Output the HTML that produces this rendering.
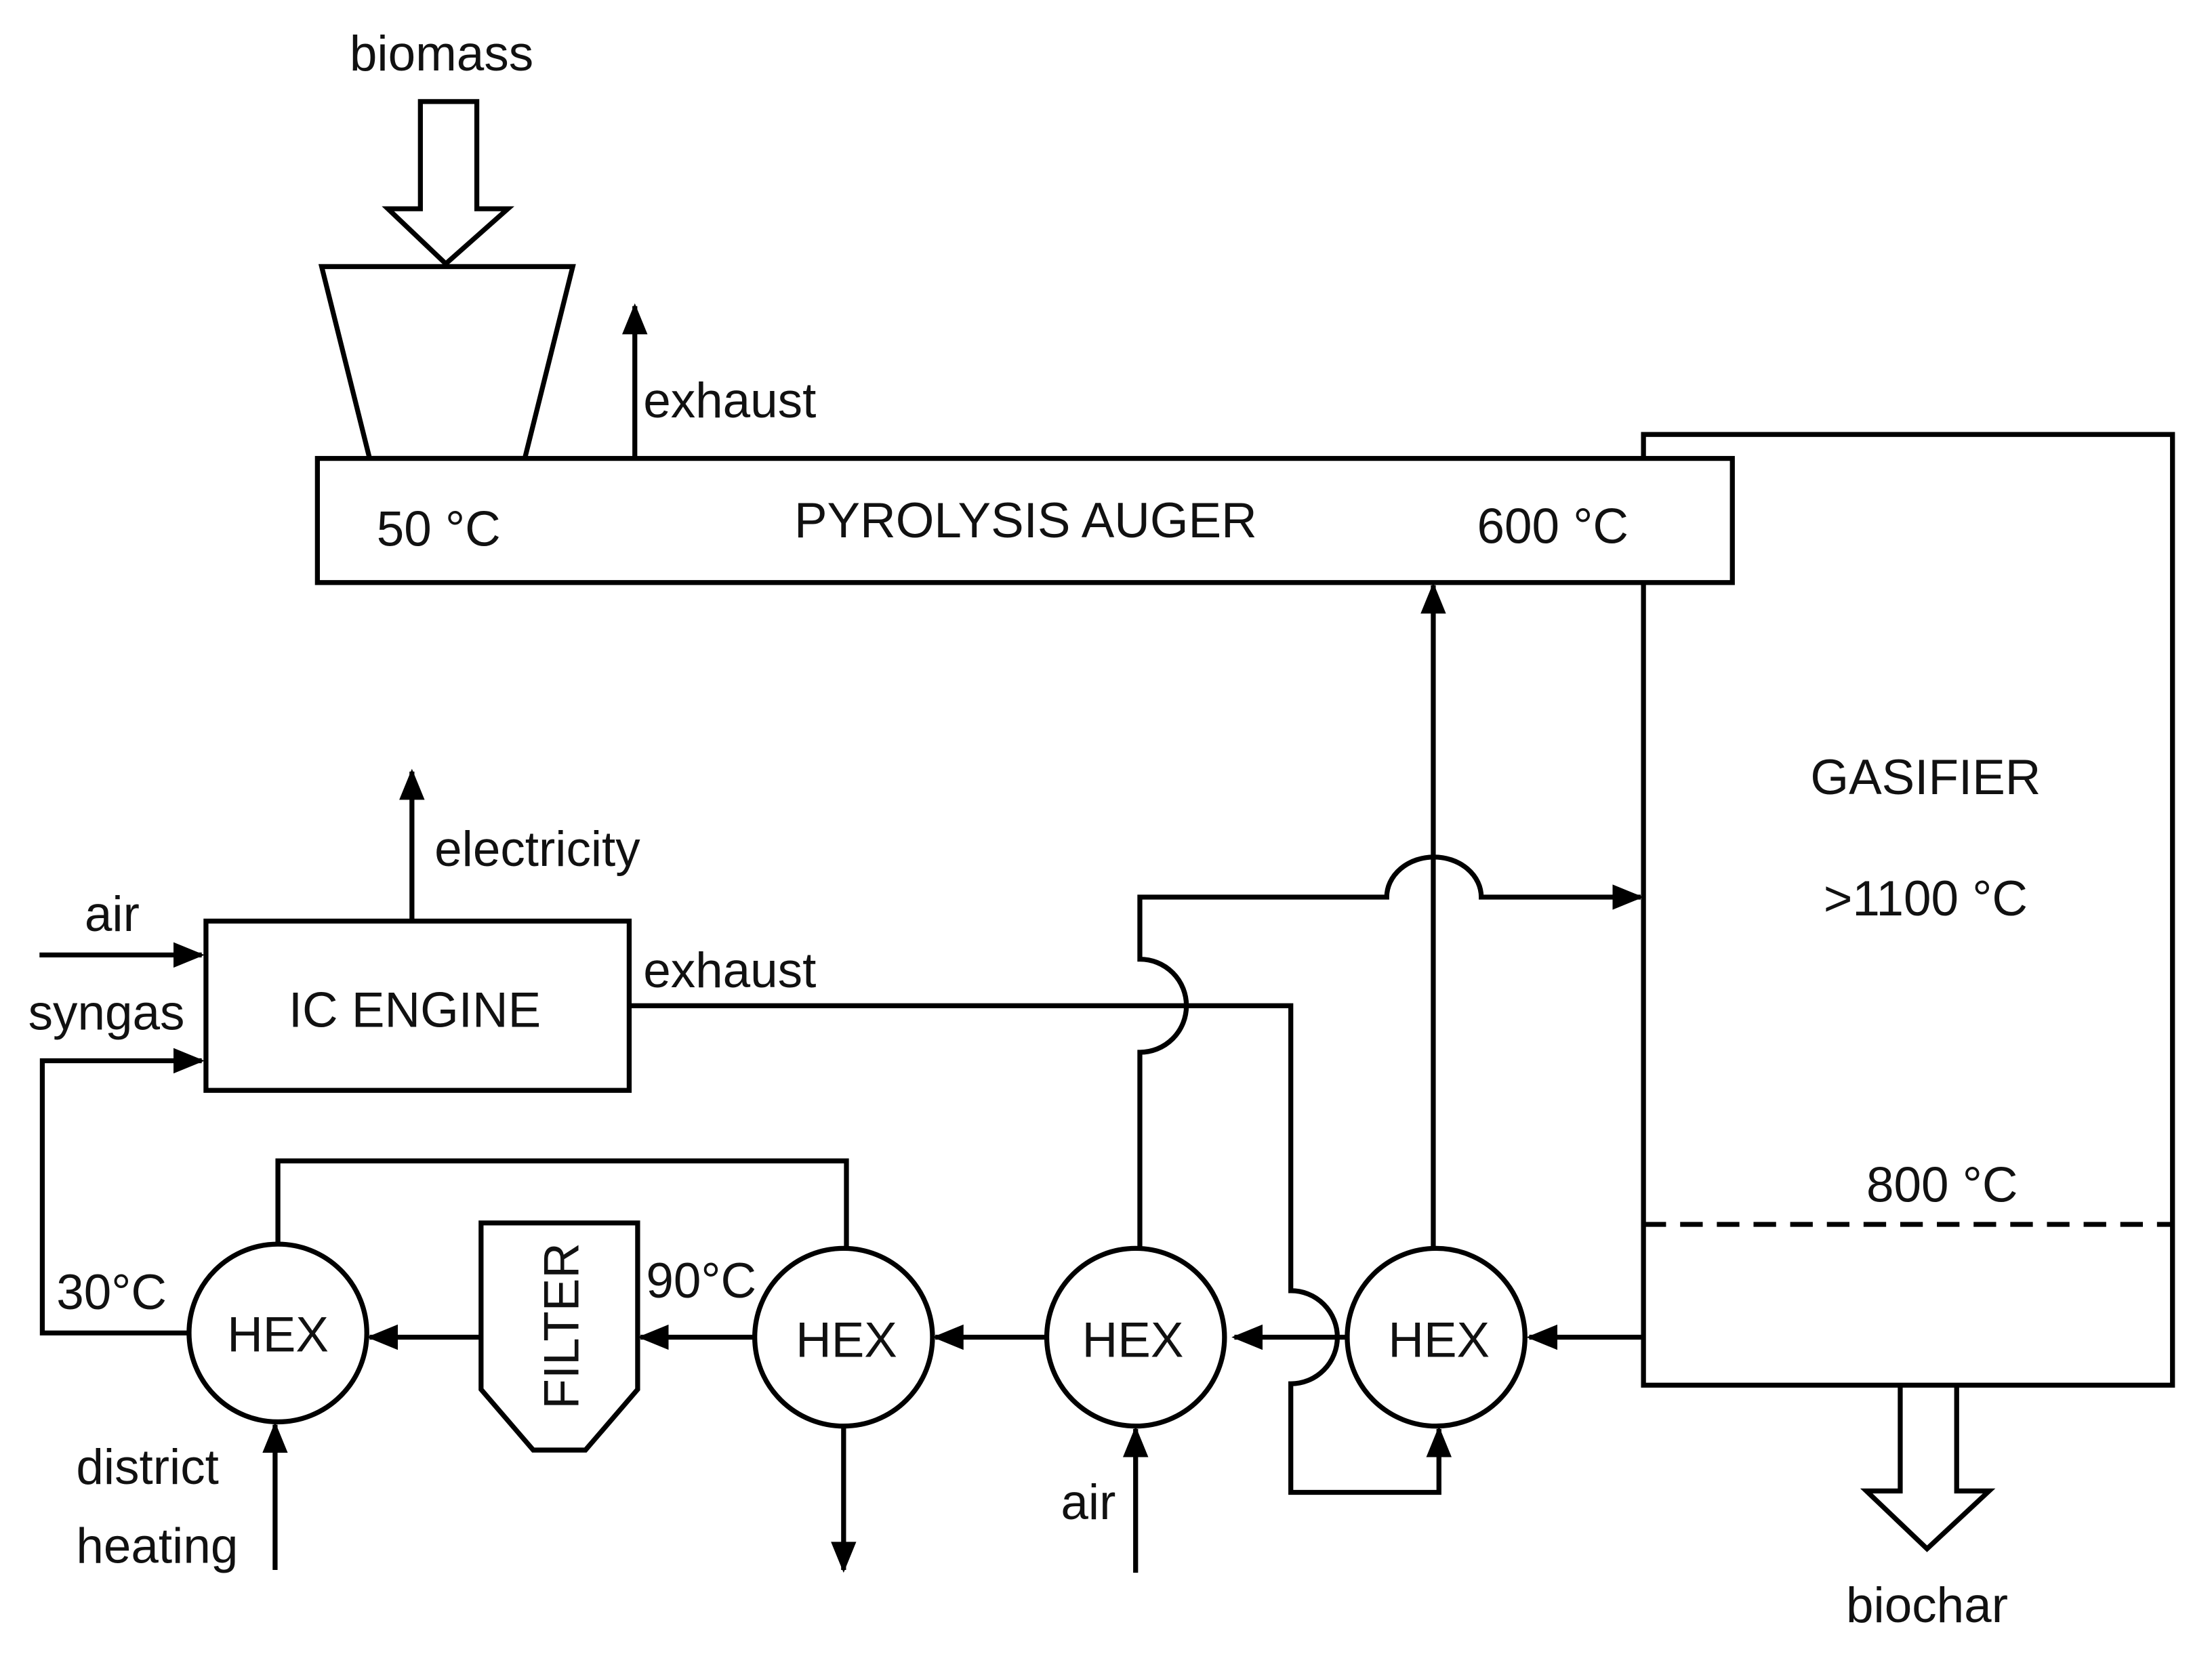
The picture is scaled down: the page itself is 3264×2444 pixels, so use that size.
<!DOCTYPE html>
<html><head><meta charset="utf-8"><style>
html,body{margin:0;padding:0;background:#fff;}
svg{display:block;}
text{font-family:"Liberation Sans",sans-serif;font-size:35px;fill:#111;}
</style></head><body>
<svg width="3264" height="2444" viewBox="0 0 1568 1174" preserveAspectRatio="none" xmlns="http://www.w3.org/2000/svg">
<defs>
<marker id="b" markerWidth="22" markerHeight="22" refX="20" refY="11" orient="auto" markerUnits="userSpaceOnUse" viewBox="0 0 22 22"><path d="M0,2 L22,11 L0,20z" fill="#000"/></marker></defs>
<g fill="none" stroke="#000" stroke-width="3.5">
<path d="M298,72 H338 V148 H360 L316,187 L275,148 H298 Z" fill="#fff"/>
<path d="M228,189 H406 L372,325 H262 Z"/>
<path d="M450,325 V217" marker-end="url(#b)"/>
<path d="M1347,982 V1057 H1323 L1366,1098 L1410,1057 H1387 V982" fill="#fff"/>
<rect x="1165" y="308" width="375" height="674"/>
<path d="M1165,868 H1540" stroke-dasharray="16,10"/>
<rect x="225" y="325" width="1003" height="88" fill="#fff"/>
<rect x="146" y="653" width="300" height="120"/>
<path d="M292,653 V547" marker-end="url(#b)"/>
<path d="M28,677 H143" marker-end="url(#b)"/>
<path d="M133,945 H30 V752 H143" marker-end="url(#b)"/>
<circle cx="197" cy="945" r="63"/>
<circle cx="598" cy="948" r="63"/>
<circle cx="805" cy="948" r="63"/>
<circle cx="1018" cy="948" r="63"/>
<path d="M341,867 H452 V985 L415,1028 H378 L341,985 Z"/>
<path d="M1165,948 H1084" marker-end="url(#b)"/>
<path d="M955,948 H875" marker-end="url(#b)"/>
<path d="M742,948 H663" marker-end="url(#b)"/>
<path d="M535,948 H454" marker-end="url(#b)"/>
<path d="M341,948 H262" marker-end="url(#b)"/>
<path d="M197,882 V823 H600 V885"/>
<path d="M598,1011 V1113" marker-end="url(#b)"/>
<path d="M805,1115 V1013" marker-end="url(#b)"/>
<path d="M195,1113 V1010" marker-end="url(#b)"/>
<path d="M808,885 V746 A33,33 0 0 0 808,680 V636 H983 A33,28 0 0 1 1050,636 H1163" marker-end="url(#b)"/>
<path d="M1016,885 V415" marker-end="url(#b)"/>
<path d="M446,713 H915 V915 A33,33 0 0 1 915,981 V1058 H1020 V1013" marker-end="url(#b)"/>
</g>
<text x="313" y="50" text-anchor="middle">biomass</text>
<text x="456" y="296">exhaust</text>
<text x="267" y="387">50 °C</text>
<text x="727" y="381" text-anchor="middle">PYROLYSIS AUGER</text>
<text x="1047" y="385">600 °C</text>
<text x="1365" y="563" text-anchor="middle">GASIFIER</text>
<text x="1365" y="649" text-anchor="middle">&gt;1100 °C</text>
<text x="1323" y="852">800 °C</text>
<text x="1366" y="1150" text-anchor="middle">biochar</text>
<text x="308" y="614">electricity</text>
<text x="60" y="660">air</text>
<text x="20" y="730">syngas</text>
<text x="294" y="728" text-anchor="middle">IC ENGINE</text>
<text x="456" y="700">exhaust</text>
<text x="40" y="928">30°C</text>
<text x="458" y="920">90°C</text>
<text x="197" y="958" text-anchor="middle">HEX</text>
<text x="600" y="962" text-anchor="middle">HEX</text>
<text x="803" y="962" text-anchor="middle">HEX</text>
<text x="1020" y="962" text-anchor="middle">HEX</text>
<text transform="translate(410,940) rotate(-90)" text-anchor="middle">FILTER</text>
<text x="752" y="1077">air</text>
<text x="54" y="1052">district</text>
<text x="54" y="1108">heating</text>
</svg>
</body></html>
